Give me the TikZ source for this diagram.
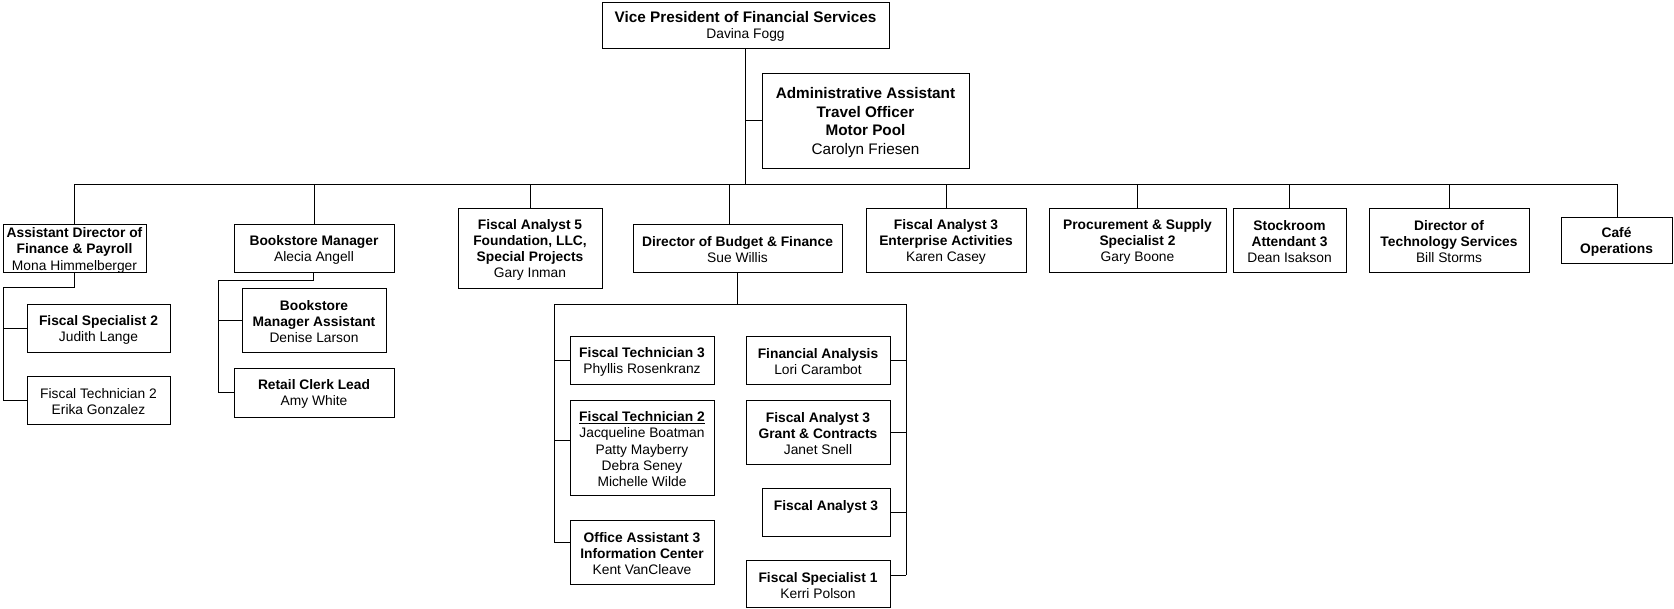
\documentclass[tikz,border=0pt]{standalone}
\usepackage{fontspec}
\setmainfont{Liberation Sans}
\usetikzlibrary{calc}
\newcommand\B[1]{\textbf{#1}}
\newcommand\bx[6]{\node[box, minimum width={#3-#2}, minimum height={#5-#4}] (#1) at ({(#2+#3)/2},{(#4+#5)/2}) {\rule{0pt}{13.5pt}#6};}
\tikzset{
  box/.style={draw, line width=0.9pt, inner sep=0pt, align=center,
    font=\fontsize{13.8}{16.2}\selectfont},
  bigbox/.style={font=\fontsize{15.3}{18.4}\selectfont},
  conn/.style={line width=0.8pt}
}
\begin{document}
\begin{tikzpicture}[x=1pt,y=-1pt]
\useasboundingbox (0,0) rectangle (1674,608);
% top
\node[box, minimum width=287, minimum height=46] (vp) at (745.5,25)
  {\rule{0pt}{14.5pt}\fontsize{15.3}{15.2}\selectfont\B{Vice President of Financial Services}\\\fontsize{13.8}{15.2}\selectfont Davina Fogg};
\node[box, bigbox, minimum width=207, minimum height=95] (admin) at (865.5,120.5)
  {\rule{0pt}{15pt}\B{Administrative Assistant}\\\B{Travel Officer}\\\B{Motor Pool}\\Carolyn Friesen};
% level 2
\bx{asstdir}{3}{146}{225}{272}{\B{Assistant Director of}\\\B{Finance \& Payroll}\\Mona Himmelberger}
\bx{fs2}{27}{170}{304}{352}{\B{Fiscal Specialist 2}\\Judith Lange}
\bx{ft2a}{27}{170}{376}{424}{Fiscal Technician 2\\Erika Gonzalez}
\bx{bm}{234}{394}{224}{272}{\B{Bookstore Manager}\\Alecia Angell}
\bx{bma}{242}{386}{288}{352}{\B{Bookstore}\\\B{Manager Assistant}\\Denise Larson}
\bx{rcl}{234}{394}{368}{417}{\B{Retail Clerk Lead}\\Amy White}
\bx{fa5}{458}{602}{208}{288}{\B{Fiscal Analyst 5}\\\B{Foundation, LLC,}\\\B{Special Projects}\\Gary Inman}
\bx{dbf}{633}{842}{224}{272}{\B{Director of Budget \& Finance}\\Sue Willis}
\bx{ft3}{570}{714}{336}{384}{\B{Fiscal Technician 3}\\Phyllis Rosenkranz}
\bx{ft2b}{570}{714}{400}{495}{\underline{\B{Fiscal Technician 2}}\\Jacqueline Boatman\\Patty Mayberry\\Debra Seney\\Michelle Wilde}
\bx{oa3}{570}{714}{520}{584}{\B{Office Assistant 3}\\\B{Information Center}\\Kent VanCleave}
\bx{fa}{746}{890}{336}{384}{\B{Financial Analysis}\\Lori Carambot}
\bx{fa3g}{746}{890}{400}{464}{\B{Fiscal Analyst 3}\\\B{Grant \& Contracts}\\Janet Snell}
\bx{fa3}{762}{890}{488}{536}{\B{Fiscal Analyst 3}\\~}
\bx{fs1}{746}{890}{560}{607}{\B{Fiscal Specialist 1}\\Kerri Polson}
\bx{fa3e}{866}{1026}{208}{272}{\B{Fiscal Analyst 3}\\\B{Enterprise Activities}\\Karen Casey}
\bx{psp}{1049}{1226}{208}{272}{\B{Procurement \& Supply}\\\B{Specialist 2}\\Gary Boone}
\bx{sa3}{1233}{1346}{208}{272}{\B{Stockroom}\\\B{Attendant 3}\\Dean Isakson}
\bx{dts}{1369}{1529}{208}{272}{\B{Director of}\\\B{Technology Services}\\Bill Storms}
\bx{cafe}{1561}{1672}{217}{263}{\B{Café}\\\B{Operations}}
% connectors
\coordinate (hL) at (74,184);
\coordinate (hR) at (1617,184);
\draw[conn] (hL) -- (hR);
\draw[conn] (vp.south) -- (vp.south |- hL);
\draw[conn] (vp.south |- admin.west) -- (admin.west);
\draw[conn] (hL) -- (asstdir.north -| hL);
\draw[conn] (bm.north |- hL) -- (bm.north);
\draw[conn] (fa5.north |- hL) -- (fa5.north);
\draw[conn] (729,184 |- hL) -- (dbf.north -| 729,0);
\draw[conn] (fa3e.north |- hL) -- (fa3e.north);
\draw[conn] (psp.north |- hL) -- (psp.north);
\draw[conn] (sa3.north |- hL) -- (sa3.north);
\draw[conn] (dts.north |- hL) -- (dts.north);
\draw[conn] (hR) -- (cafe.north -| hR);
% assistant director subtree
\coordinate (aL) at (3,287);
\draw[conn] (asstdir.south) -- (asstdir.south |- aL) -- (aL) -- (ft2a.west -| aL);
\draw[conn] (fs2.west -| aL) -- (fs2.west);
\draw[conn] (ft2a.west -| aL) -- (ft2a.west);
% bookstore subtree
\coordinate (bL) at (218,280);
\draw[conn] (bm.south -| 313,0) -- (313,280) -- (bL) -- (rcl.west -| bL);
\draw[conn] (bma.west -| bL) -- (bma.west);
\draw[conn] (rcl.west -| bL) -- (rcl.west);
% budget subtree
\coordinate (dL) at (554,304);
\coordinate (dR) at (906,304);
\draw[conn] (dbf.south) -- (dbf.south |- dL);
\draw[conn] (dL) -- (dR);
\draw[conn] (dL) -- (554,542);
\draw[conn] (dR) -- (906,575);
\draw[conn] (ft3.west -| dL) -- (ft3.west);
\draw[conn] (554,440) -- (ft2b.west |- 0,440);
\draw[conn] (554,542) -- (oa3.west |- 0,542);
\draw[conn] (fa.east) -- (fa.east -| dR);
\draw[conn] (fa3g.east) -- (fa3g.east -| dR);
\draw[conn] (fa3.east) -- (fa3.east -| dR);
\draw[conn] (fs1.east |- 0,575) -- (906,575);
\end{tikzpicture}
\end{document}
